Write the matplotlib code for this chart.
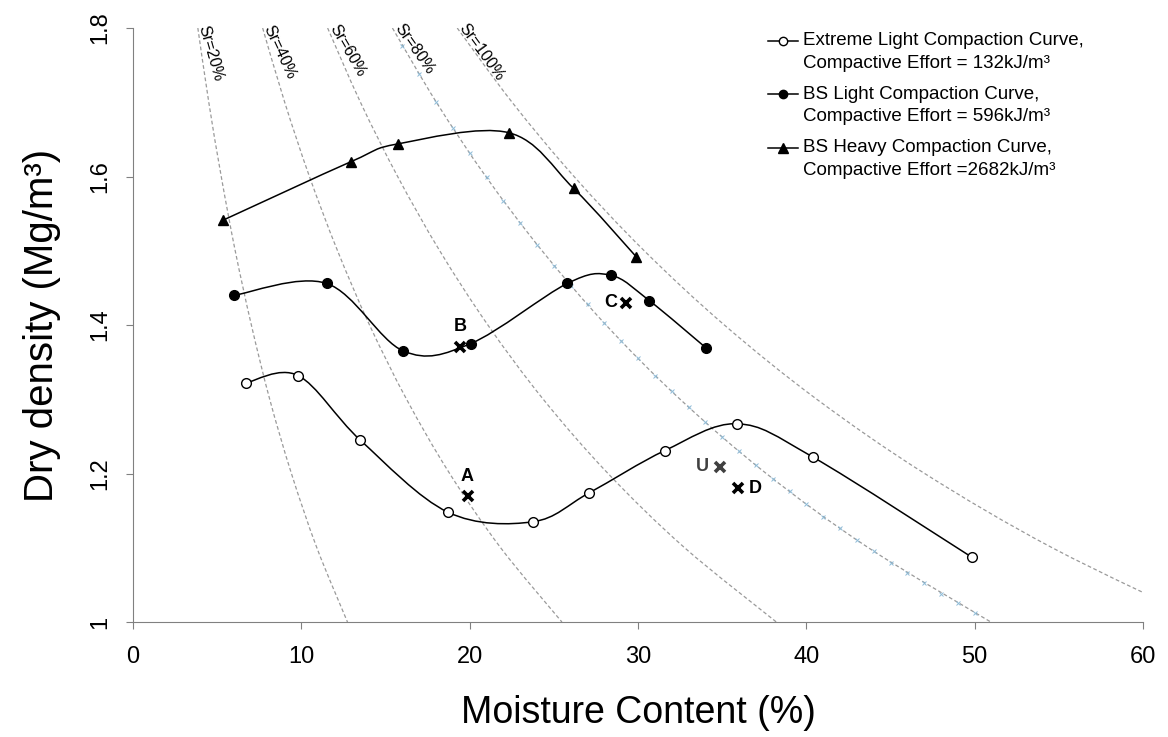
import matplotlib
matplotlib.use('Agg')
import matplotlib.pyplot as plt
import numpy as np
from matplotlib.path import Path
from matplotlib.patches import PathPatch

plt.rcParams['font.family'] = ['Liberation Sans', 'DejaVu Sans']

# compaction curves (moisture %, dry density Mg/m3)
ext_w = [6.7, 9.8, 13.5, 18.7, 23.75, 27.1, 31.6, 35.9, 40.4, 49.85]
ext_rho = [1.322, 1.332, 1.245, 1.148, 1.135, 1.174, 1.231, 1.267, 1.222, 1.087]

light_w = [6.0, 11.5, 16.06, 20.06, 25.8, 28.38, 30.66, 34.05]
light_rho = [1.440, 1.456, 1.365, 1.375, 1.456, 1.467, 1.433, 1.369]

heavy_w = [5.33, 12.95, 15.75, 22.32, 26.17, 29.89]
heavy_rho = [1.541, 1.620, 1.644, 1.659, 1.584, 1.492]

legend_lines = [
    ('Extreme Light Compaction Curve,', 'Compactive Effort = 132kJ/m³'),
    ('BS Light Compaction Curve,', 'Compactive Effort = 596kJ/m³'),
    ('BS Heavy Compaction Curve,', 'Compactive Effort =2682kJ/m³'),
]

# saturation lines
sat_rho = [1.8, 1.7, 1.6, 1.5, 1.4, 1.3, 1.2, 1.1, 1.0]
sr20_w = [3.85, 4.50, 5.24, 6.07, 7.03, 8.12, 9.41, 10.92, 12.74]
sr40_w = [7.70, 9.01, 10.48, 12.15, 14.05, 16.25, 18.81, 21.84, 25.48]
sr60_w = [11.56, 13.51, 15.72, 18.22, 21.08, 24.37, 28.22, 32.77, 38.22]
sr80_w = [15.41, 18.02, 20.96, 24.30, 28.10, 32.50, 37.62, 43.69, 50.96]
sr100_w = [19.26, 22.52, 26.2, 30.37, 35.13, 40.62, 47.03, 54.61, 63.7]
sr_labels = ['Sr=20%', 'Sr=40%', 'Sr=60%', 'Sr=80%', 'Sr=100%']

# marker points on the 80% line
sr80_mark_w = list(range(16, 51))
sr80_mark_rho = [1.776, 1.738, 1.701, 1.665, 1.631, 1.599, 1.567, 1.537, 1.508, 1.480,
                 1.453, 1.428, 1.403, 1.378, 1.355, 1.332, 1.311, 1.289, 1.269, 1.249,
                 1.230, 1.211, 1.193, 1.176, 1.159, 1.142, 1.126, 1.110, 1.095, 1.080,
                 1.066, 1.052, 1.038, 1.025, 1.012]

# sample points
pt_names = ['A', 'B', 'C', 'D', 'U']
pt_w = [19.87, 19.43, 29.3, 35.96, 34.88]
pt_rho = [1.170, 1.371, 1.430, 1.180, 1.209]


def smooth_path(xs, ys):
    # excel style smoothed line as cubic bezier segments
    p = np.column_stack([xs, ys])
    n = len(p)
    verts = [p[0]]
    codes = [Path.MOVETO]
    for i in range(n - 1):
        p0 = p[max(i - 1, 0)]
        p1 = p[i]
        p2 = p[i + 1]
        p3 = p[min(i + 2, n - 1)]
        verts += [p1 + (p2 - p0) / 6, p2 - (p3 - p1) / 6, p2]
        codes += [Path.CURVE4] * 3
    return Path(verts, codes)


fig = plt.figure(figsize=(11.68, 7.37), dpi=100)
ax = fig.add_axes([0.1139, 0.156, 0.8647, 0.806])

dash = (0, (3, 2))
gray = '#9a9a9a'
for w in [sr20_w, sr40_w, sr60_w, sr80_w, sr100_w]:
    ax.add_patch(PathPatch(smooth_path(w, sat_rho), fill=False, lw=0.9,
                           edgecolor=gray, linestyle=dash, zorder=1))
ax.plot(sr80_mark_w, sr80_mark_rho, linestyle='none', marker='x', ms=3.5,
        mew=0.7, color='#8fbcd8', zorder=1)

rots = [-74, -65, -60, -55, -54]
for w, lab, r in zip([sr20_w, sr40_w, sr60_w, sr80_w, sr100_w], sr_labels, rots):
    ax.text(w[0] + 0.3, 1.803, lab, rotation=r, rotation_mode='anchor',
            ha='left', va='center', fontsize=11.5, clip_on=False)

styles = [
    dict(marker='o', mfc='white', mec='black', ms=7, mew=1.0),
    dict(marker='o', mfc='black', mec='black', ms=7, mew=1.0),
    dict(marker='^', mfc='black', mec='black', ms=7.5, mew=1.0),
]
series = [(ext_w, ext_rho), (light_w, light_rho), (heavy_w, heavy_rho)]
for (w, rho), st in zip(series, styles):
    ax.add_patch(PathPatch(smooth_path(w, rho), fill=False, lw=1.1,
                           edgecolor='black', zorder=3))
    ax.plot(w, rho, linestyle='none', zorder=4, **st)

# sample crosses
offsets = {'A': (0, 14), 'B': (0, 14.5), 'C': (-11, 0), 'D': (12, 0), 'U': (-12.5, 0)}
for name, w, rho in zip(pt_names, pt_w, pt_rho):
    col = '#404040' if name == 'U' else 'black'
    ax.plot(w, rho, linestyle='none', marker='x', ms=7.5, mew=2.6, color=col, zorder=5)
    ax.annotate(name, (w, rho), xytext=offsets[name], textcoords='offset points',
                ha='center', va='center', fontsize=13, fontweight='bold', color=col)

# legend drawn by hand so the handle sits on the first line
leg_y = [0.9786, 0.8884, 0.7985]
for (l1, l2), st, y in zip(legend_lines, styles, leg_y):
    ax.plot([0.6287, 0.6584], [y, y], color='black', lw=1.1,
            transform=ax.transAxes, clip_on=False)
    ax.plot([0.6436], [y], transform=ax.transAxes, clip_on=False,
            linestyle='none', **dict(st, ms=st['ms'] - 1))
    ax.text(0.6634, y, l1, transform=ax.transAxes, va='center', ha='left', fontsize=13.5)
    ax.text(0.6634, y - 0.0379, l2, transform=ax.transAxes, va='center', ha='left',
            fontsize=13.5)

ax.set_xlim(0, 60)
ax.set_ylim(1.0, 1.8)
ax.set_xticks([0, 10, 20, 30, 40, 50, 60])
ax.set_yticks([1.0, 1.2, 1.4, 1.6, 1.8])
ax.set_yticklabels(['1', '1.2', '1.4', '1.6', '1.8'], rotation=90, va='center')
for s in ['top', 'right']:
    ax.spines[s].set_visible(False)
for s in ['left', 'bottom']:
    ax.spines[s].set_color('#808080')
ax.tick_params(axis='both', direction='out', length=5, color='#808080', labelsize=17)
ax.tick_params(axis='x', pad=12)
ax.tick_params(axis='y', pad=11)

ax.set_xlabel('Moisture Content (%)', fontsize=27, labelpad=20)
ax.set_ylabel('Dry density (Mg/m³)', fontsize=29, labelpad=20)

fig.savefig('out.png', dpi=100)
